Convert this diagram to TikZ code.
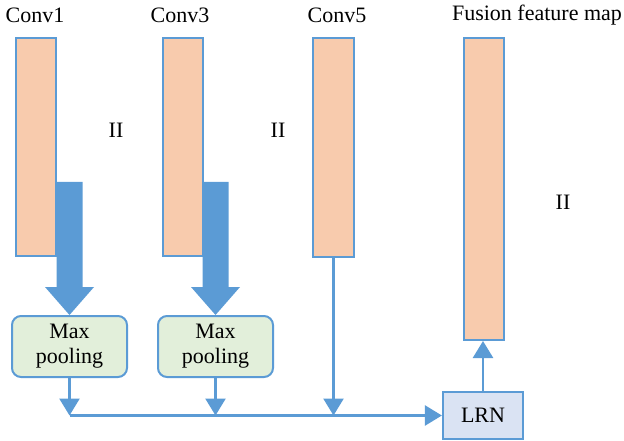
\documentclass[tikz,border=0pt]{standalone}
\usepackage{fontspec}
\setmainfont{Liberation Serif}
\usetikzlibrary{arrows.meta,calc}
\definecolor{edgeblue}{HTML}{5B9BD5}
\definecolor{mapfill}{HTML}{F8CBAD}
\definecolor{poolfill}{HTML}{E2EFDA}
\definecolor{lrnfill}{HTML}{DAE3F3}

\begin{document}
\begin{tikzpicture}[x=1pt,y=-1pt,
  every node/.style={font=\fontsize{22}{25}\selectfont},
  fmap/.style={draw=edgeblue,fill=mapfill,line width=2pt,inner sep=0pt,
    minimum width=40pt,anchor=north west},
  poolbox/.style={draw=edgeblue,fill=poolfill,line width=2pt,rounded corners=9pt,
    minimum width=115pt,minimum height=61pt,align=center,inner sep=0pt},
  lrnbox/.style={draw=edgeblue,fill=lrnfill,line width=2.2pt,
    minimum width=80pt,minimum height=47pt,inner sep=0pt},
  conn/.style={draw=edgeblue,line width=2.5pt,-{Triangle[width=20pt,length=17pt]}},
  bigarrow/.style={fill=edgeblue}]
\useasboundingbox (0,0) rectangle (624,441);

% feature maps
\node[fmap,minimum height=218pt] (c1) at (15,37) {};
\node[fmap,minimum height=218pt] (c3) at (162,37) {};
\node[fmap,minimum width=41pt,minimum height=219pt] (c5) at (312,37) {};
\node[fmap,minimum height=302pt] (fus) at (463,37) {};

% titles
\node (t1) at (35,15) {Conv1};
\node (t3) at (180,15) {Conv3};
\node (t5) at (337,15) {Conv5};
\node (tf) at (537,15) {Fusion feature map};

% ellipsis marks
\node (e1) at (116,130) {II};
\node (e3) at (278,130) {II};
\node (ef) at (563,202) {II};

% processing boxes
\node[poolbox] (mp1) at (69.5,346.5) {Max\\pooling};
\node[poolbox] (mp3) at (215.5,346.5) {Max\\pooling};
\node[lrnbox] (lrn) at (483,415.5) {LRN};

% wide arrows into max pooling
\foreach \p in {mp1,mp3}{
  \fill[bigarrow] (\p.north) -- ++(24.5,-28) -- ++(-11.5,0) -- ++(0,-105)
    -- ++(-26,0) -- ++(0,105) -- ++(-11.5,0) -- cycle;
}

% merge line
\coordinate (j1) at (mp1.south |- lrn.west);
\coordinate (j3) at (mp3.south |- lrn.west);
\coordinate (j5) at (c5.south |- lrn.west);
\coordinate (fin) at (lrn.north |- fus.south);
\draw[conn] (mp1.south) -- (j1);
\draw[conn] (mp3.south) -- (j3);
\draw[conn] (c5.south) -- (j5);
\draw[conn] (j1) -- (lrn.west);
\draw[conn] (lrn.north) -- (fin);
\end{tikzpicture}
\end{document}
